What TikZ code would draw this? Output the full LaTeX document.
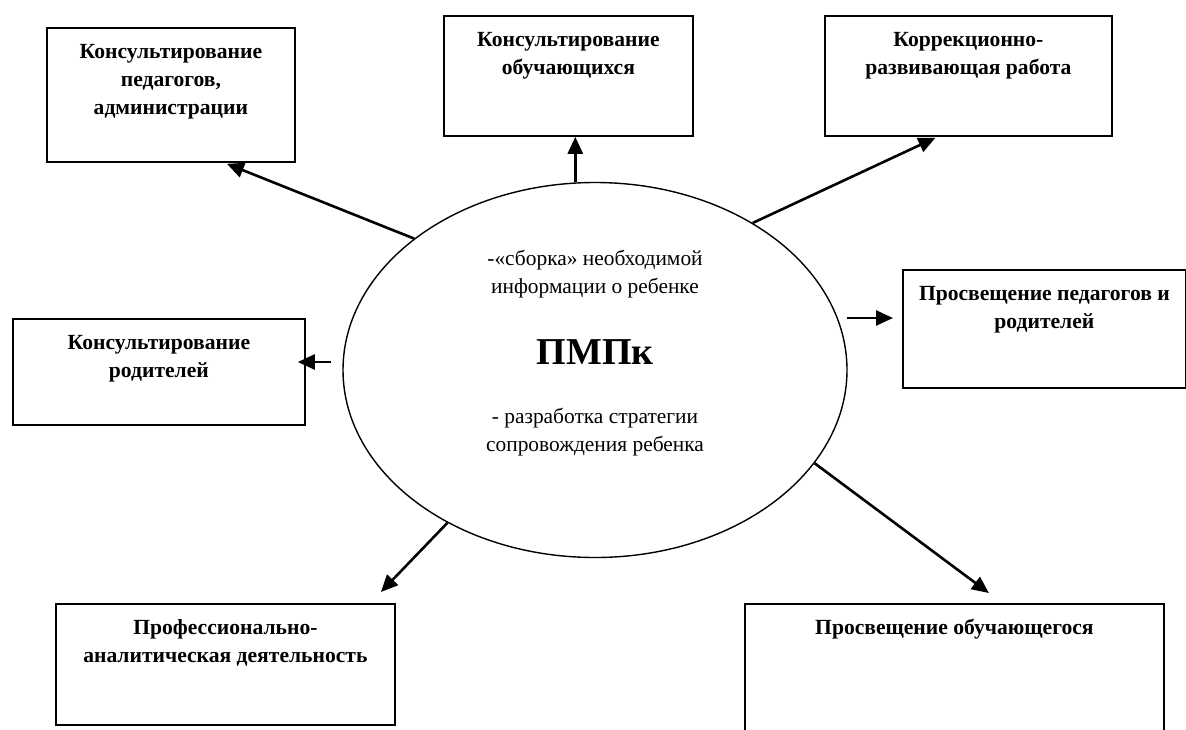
\documentclass[tikz,border=0pt]{standalone}
\usepackage{fontspec}
\setmainfont{Liberation Serif}
\usetikzlibrary{shapes.geometric,arrows.meta}
\newcommand{\bxt}[3]{\parbox[t][#2pt][t]{#1pt}{\centering\rule{0pt}{31pt}#3\par}}
\tikzset{
  box/.style={draw, line width=1.8pt, inner sep=0pt, anchor=north west,
    font=\bfseries\fontsize{21.6}{28}\selectfont},
  txt/.style={align=center, inner sep=0pt, font=\fontsize{21.4}{28}\selectfont},
  arr/.style={line width=2.6pt, -{Triangle[length=17pt,width=15pt]}}
}
\begin{document}
\begin{tikzpicture}[x=1pt,y=-1pt]
\fill[white] (0,0) rectangle (1186,729);
\useasboundingbox (0,0) rectangle (1186,729);
\clip (0,0) rectangle (1186,729);
% central ellipse
\node[draw, ellipse, line width=1.4pt, minimum width=504pt, minimum height=375pt, inner sep=0pt] (ell) at (595,370) {};
\node[txt] (t1) at (595,274) {-«сборка» необходимой\\информации о ребенке};
\node[txt, font=\bfseries\fontsize{38}{44}\selectfont] (pm) at (595,352) {ПМПк};
\node[txt] (t2) at (595,432.5) {- разработка стратегии\\сопровождения ребенка};
% boxes
\node[box] (b1) at (46,27) {\bxt{248}{134}{Консультирование\\педагогов,\\администрации}};
\node[box] (b2) at (443,15) {\bxt{249}{120}{Консультирование\\обучающихся}};
\node[box] (b3) at (824,15) {\bxt{287}{120}{Коррекционно-\\развивающая работа}};
\node[box] (b4) at (12,318) {\bxt{292}{106}{Консультирование\\родителей}};
\node[box] (b5) at (902,269) {\bxt{283}{118}{Просвещение педагогов и\\родителей}};
\node[box] (b6) at (55,603) {\bxt{339}{121}{Профессионально-\\аналитическая деятельность}};
\node[box] (b7) at (744,603) {\bxt{419}{150}{Просвещение обучающегося}};
% connectors
\coordinate (s1) at (ell.144.7);
\coordinate (s2) at (ell.96.1);
\coordinate (s3) at (ell.43.3);
\coordinate (s4) at ([xshift=-11pt,yshift=8pt]ell.west);
\coordinate (s5) at ([xshift=-1pt,yshift=52pt]ell.east);
\coordinate (s6) at (ell.226);
\coordinate (s7) at (ell.-23.3);
\draw[arr] (s1) -- ([xshift=56pt,yshift=-1pt]b1.south);
\draw[arr] (s2) -- (s2 |- b2.south);
\draw[arr] (s3) -- ([xshift=-33pt,yshift=-1pt]b3.south);
\draw[arr] (s4) -- ([xshift=-8pt]b4.east |- s4);
\draw[arr] (s5) -- ([xshift=-9pt]b5.west |- s5);
\draw[arr] (s6) -- ([xshift=155.5pt,yshift=11pt]b6.north);
\draw[arr] (s7) -- ([xshift=34.5pt,yshift=10pt]b7.north);
\end{tikzpicture}
\end{document}
